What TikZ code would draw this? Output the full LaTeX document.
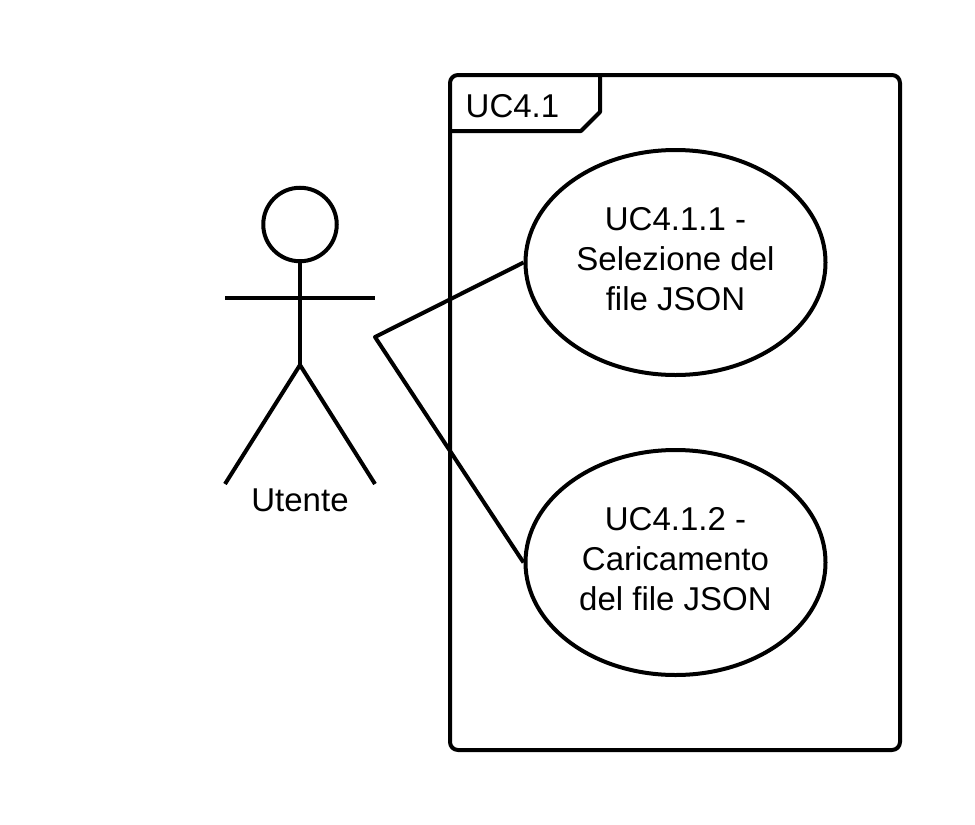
\documentclass[tikz,border=0pt]{standalone}
\usepackage{fontspec}
\setmainfont{Liberation Sans}
\usetikzlibrary{shapes.geometric}
\tikzset{
  line/.style={line width=4bp,line join=round},
  usecase/.style={draw,ellipse,line width=4bp,minimum width=300bp,minimum height=225bp,inner sep=0pt,align=center,text depth=8bp,font=\fontsize{33bp}{40bp}\selectfont},
  label/.style={font=\fontsize{33bp}{39bp}\selectfont,inner sep=0pt}
}
\begin{document}
\begin{tikzpicture}[x=1bp,y=-1bp]
\useasboundingbox (0,0) rectangle (975,825);
\draw[line,rounded corners=8bp] (450,75) rectangle (900,750);
\draw[line] (450,131) -- (581,131) -- (600,112) -- (600,75);
\node[label,anchor=west] (frame) at (465.5,106) {UC4.1};
\node[usecase] (uc1) at (675.5,262.5) {UC4.1.1 -\\Selezione del\\file JSON};
\node[usecase] (uc2) at (675.5,562.5) {UC4.1.2 -\\Caricamento\\del file JSON};
% attore
\node[draw,circle,line width=4bp,minimum size=73.5bp,inner sep=0pt] (head) at (300,224.5) {};
\coordinate (hip) at (300,365);
\coordinate (handL) at (225,298);
\coordinate (handR) at (375,298);
\coordinate (footL) at (225,484);
\coordinate (footR) at (375,484);
\coordinate (actor) at (375,337);
\draw[line] (head) -- (hip);
\draw[line] (handL) -- (handR);
\draw[line] (footL) -- (hip) -- (footR);
\node[label] (utente) at (300,500.5) {Utente};
\draw[line] (uc1.west) -- (actor) -- (uc2.west);
\end{tikzpicture}
\end{document}
